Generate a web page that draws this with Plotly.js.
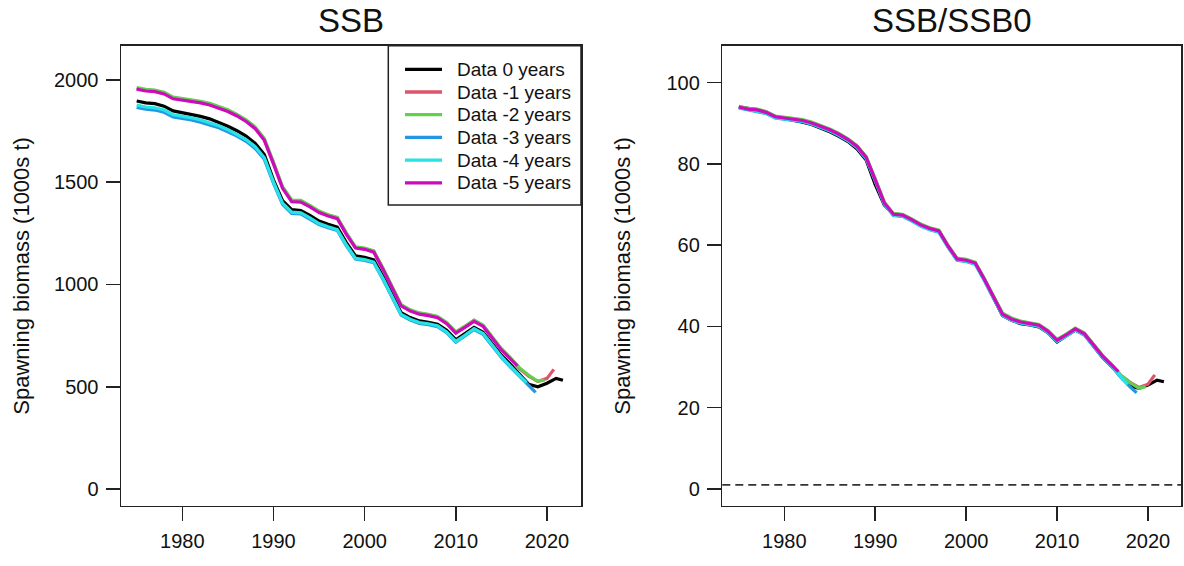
<!DOCTYPE html>
<html>
<head>
<meta charset="utf-8">
<script src="https://cdn.plot.ly/plotly-3.0.1.min.js"></script>
<style>
  html, body { margin: 0; padding: 0; background: #ffffff; }
  #chart { width: 1184px; height: 566px; }
</style>
</head>
<body>
<div id="chart"></div>
<script>
// Annual time steps; each retrospective peel ends with a partial-year point
const years = [1975, 1976, 1977, 1978, 1979, 1980, 1981, 1982, 1983, 1984,
               1985, 1986, 1987, 1988, 1989, 1990, 1991, 1992, 1993, 1994,
               1995, 1996, 1997, 1998, 1999, 2000, 2001, 2002, 2003, 2004,
               2005, 2006, 2007, 2008, 2009, 2010, 2011, 2012, 2013, 2014,
               2015, 2016, 2017, 2018, 2019, 2020, 2021];
const peelEnd = [2021.75, 2020.75, 2019.75, 2018.75, 2017.75, 2016.75];
const peelLabels = ["Data 0 years", "Data -1 years", "Data -2 years",
                    "Data -3 years", "Data -4 years", "Data -5 years"];
const peelColors = ["#000000", "#DF536B", "#61D04F", "#2297E6", "#28E2E5", "#CD0BBC"];

// Spawning biomass (1000s t) by peel
const ssbPeel0 = [1897, 1888, 1884, 1872, 1849, 1841, 1833, 1822, 1810, 1793,
                  1774, 1752, 1726, 1690, 1635, 1512, 1410, 1366, 1362, 1338,
                  1310, 1294, 1281, 1205, 1140, 1133, 1120, 1040, 950, 862,
                  838, 822, 815, 806, 776, 730, 760, 790, 766, 710,
                  654, 610, 562, 512, 500, 517, 541, 532];
const ssbPeel1 = [1959, 1950, 1947, 1936, 1912, 1906, 1901, 1892, 1882, 1868,
                  1850, 1828, 1801, 1766, 1709, 1594, 1474, 1409, 1407, 1384,
                  1356, 1339, 1326, 1249, 1182, 1176, 1162, 1079, 989, 899,
                  874, 859, 852, 842, 812, 766, 794, 824, 799, 742,
                  684, 639, 588, 552, 526, 541, 585];
const ssbPeel2 = [1963, 1954, 1951, 1940, 1916, 1910, 1905, 1896, 1886, 1872,
                  1854, 1832, 1805, 1770, 1713, 1598, 1478, 1413, 1411, 1387,
                  1359, 1341, 1328, 1251, 1184, 1178, 1164, 1081, 991, 901,
                  876, 861, 854, 844, 814, 768, 796, 826, 801, 744,
                  686, 641, 592, 556, 527, 533];
const ssbPeel3 = [1866, 1857, 1853, 1842, 1819, 1812, 1805, 1794, 1782, 1766,
                  1747, 1726, 1700, 1665, 1612, 1495, 1392, 1348, 1345, 1321,
                  1293, 1277, 1264, 1189, 1124, 1118, 1106, 1026, 938, 850,
                  826, 810, 804, 794, 764, 718, 748, 780, 756, 699,
                  643, 596, 552, 505, 472];
const ssbPeel4 = [1877, 1868, 1864, 1853, 1830, 1823, 1815, 1804, 1792, 1776,
                  1757, 1735, 1709, 1674, 1620, 1502, 1398, 1354, 1350, 1326,
                  1298, 1282, 1268, 1193, 1128, 1122, 1110, 1030, 942, 854,
                  830, 814, 808, 798, 768, 722, 752, 784, 760, 703,
                  647, 600, 555, 520];
const ssbPeel5 = [1955, 1946, 1943, 1932, 1908, 1902, 1897, 1888, 1878, 1864,
                  1846, 1824, 1797, 1762, 1705, 1590, 1470, 1405, 1403, 1380,
                  1352, 1335, 1322, 1245, 1178, 1172, 1158, 1075, 985, 895,
                  870, 855, 848, 838, 808, 762, 790, 820, 795, 738,
                  680, 635, 602];

// Spawning biomass relative to unfished level (%) by peel
const relPeel0 = [94.0, 93.6, 93.4, 92.8, 91.6, 91.2, 90.8, 90.3, 89.7, 88.9,
                  87.9, 86.8, 85.5, 83.7, 81.0, 74.9, 69.9, 67.7, 67.5, 66.3,
                  64.9, 64.1, 63.5, 59.7, 56.5, 56.1, 55.5, 51.5, 47.1, 42.7,
                  41.5, 40.7, 40.4, 39.9, 38.5, 36.2, 37.7, 39.1, 38.0, 35.2,
                  32.4, 30.2, 27.8, 25.4, 24.8, 25.6, 26.8, 26.4];
const relPeel1 = [94.1, 93.6, 93.4, 92.8, 91.7, 91.4, 91.2, 90.8, 90.2, 89.4,
                  88.5, 87.4, 86.1, 84.4, 81.7, 76.2, 70.5, 67.7, 67.5, 66.4,
                  65.1, 64.2, 63.6, 59.9, 56.7, 56.4, 55.7, 51.7, 47.4, 43.1,
                  41.9, 41.2, 40.8, 40.4, 38.9, 36.7, 38.0, 39.5, 38.3, 35.6,
                  32.8, 30.6, 28.0, 26.3, 25.0, 25.8, 28.1];
const relPeel2 = [94.2, 93.7, 93.5, 92.9, 91.8, 91.5, 91.3, 90.9, 90.3, 89.5,
                  88.6, 87.5, 86.2, 84.5, 81.8, 76.3, 70.6, 67.8, 67.6, 66.5,
                  65.2, 64.3, 63.7, 60.0, 56.8, 56.5, 55.8, 51.8, 47.5, 43.3,
                  42.1, 41.3, 40.9, 40.5, 39.0, 36.8, 38.1, 39.6, 38.4, 35.7,
                  32.9, 30.7, 28.0, 26.2, 24.8, 25.2];
const relPeel3 = [93.8, 93.3, 93.0, 92.4, 91.3, 91.0, 90.8, 90.4, 89.8, 89.0,
                  88.1, 87.0, 85.7, 84.0, 81.3, 75.8, 70.1, 67.3, 67.1, 66.0,
                  64.7, 63.8, 63.2, 59.5, 56.3, 56.0, 55.3, 51.3, 47.0, 42.7,
                  41.5, 40.8, 40.4, 40.0, 38.5, 36.3, 37.6, 39.1, 37.9, 35.2,
                  32.4, 30.2, 27.5, 25.2, 23.7];
const relPeel4 = [93.9, 93.4, 93.1, 92.5, 91.4, 91.1, 90.9, 90.5, 89.9, 89.1,
                  88.2, 87.1, 85.8, 84.1, 81.4, 75.9, 70.2, 67.4, 67.2, 66.1,
                  64.8, 63.9, 63.3, 59.6, 56.4, 56.1, 55.4, 51.4, 47.1, 42.8,
                  41.6, 40.9, 40.5, 40.1, 38.6, 36.4, 37.7, 39.2, 38.0, 35.3,
                  32.5, 30.3, 27.6, 25.7];
const relPeel5 = [94.0, 93.5, 93.3, 92.7, 91.6, 91.3, 91.1, 90.7, 90.1, 89.3,
                  88.4, 87.3, 86.0, 84.3, 81.6, 76.1, 70.4, 67.6, 67.4, 66.3,
                  65.0, 64.1, 63.5, 59.8, 56.6, 56.3, 55.6, 51.6, 47.3, 43.0,
                  41.8, 41.1, 40.7, 40.3, 38.8, 36.6, 37.9, 39.4, 38.2, 35.5,
                  32.7, 30.5, 28.9];

const ssbTicks = [0, 500, 1000, 1500, 2000];
const relTicks = [0, 20, 40, 60, 80, 100];
const yearTicks = [1980, 1990, 2000, 2010, 2020];
const relReference = 1;
const panelTitles = ["SSB", "SSB/SSB0"];
const yLabel = "Spawning biomass (1000s t)";

const ssbSeries = [ssbPeel0, ssbPeel1, ssbPeel2, ssbPeel3, ssbPeel4, ssbPeel5];
const relSeries = [relPeel0, relPeel1, relPeel2, relPeel3, relPeel4, relPeel5];

// x positions: whole years followed by the peel's final partial-year step
function peelTimes(values, i) {
  return years.slice(0, values.length - 1).concat([peelEnd[i]]);
}

const traces = [];
ssbSeries.forEach((vals, i) => {
  traces.push({
    type: "scatter", mode: "lines",
    x: peelTimes(vals, i), y: vals,
    name: peelLabels[i],
    line: { color: peelColors[i], width: 3.2 },
    xaxis: "x", yaxis: "y"
  });
});
relSeries.forEach((vals, i) => {
  traces.push({
    type: "scatter", mode: "lines",
    x: peelTimes(vals, i), y: vals,
    name: peelLabels[i],
    line: { color: peelColors[i], width: 3.2 },
    xaxis: "x2", yaxis: "y2"
  });
});

const W = 1184, H = 566;
const ink = "#222222";
const textInk = "#111111";
const fontFamily = "Liberation Sans, Arial, Helvetica, sans-serif";

function axisStyle(extra) {
  return Object.assign({
    showline: true, mirror: true, linecolor: ink, linewidth: 1.5,
    ticks: "outside", ticklen: 14, tickwidth: 1.5, tickcolor: ink,
    showgrid: false, zeroline: false, automargin: false,
    tickfont: { size: 20, color: textInk, family: fontFamily },
    ticklabelstandoff: 3,
    tickmode: "array", fixedrange: true
  }, extra);
}

const leftDom = [121 / W, 581 / W];
const rightDom = [722.3 / W, 1181 / W];
const yDom = [(H - 505.7) / H, (H - 45.7) / H];

const px = v => v / W;          // horizontal pixel -> paper
const py = v => (H - v) / H;    // vertical pixel (from top) -> paper

// Boxed key in the top-right corner of the left panel
const keyBox = { x0: 388.3, x1: 581, y0: 45.7, y1: 205 };
const keyRowTop = 69.3, keyRowStep = 22.7;
const keyLineX = [405, 442], keyTextX = 455;

const shapes = [{
  type: "line", xref: "x2 domain", yref: "y2",
  x0: 0, x1: 1, y0: relReference, y1: relReference,
  line: { color: "#333333", width: 1.8, dash: "8px,5px" }
}, {
  type: "rect", xref: "paper", yref: "paper",
  x0: px(keyBox.x0), x1: px(keyBox.x1), y0: py(keyBox.y1), y1: py(keyBox.y0),
  line: { color: ink, width: 1.5 }, fillcolor: "#ffffff", layer: "above"
}];
const annotations = panelTitles.map((t, i) => ({
  text: t, xref: "paper", yref: "paper",
  x: i === 0 ? (leftDom[0] + leftDom[1]) / 2 : (rightDom[0] + rightDom[1]) / 2,
  y: py(20), xanchor: "center", yanchor: "middle",
  showarrow: false,
  font: { size: 33, family: fontFamily, color: textInk }
}));
// Vertical axis labels, one per panel
[22, 623].forEach(xPix => {
  annotations.push({
    text: yLabel, xref: "paper", yref: "paper",
    x: px(xPix), y: (yDom[0] + yDom[1]) / 2,
    xanchor: "center", yanchor: "middle", textangle: -90,
    showarrow: false,
    font: { size: 22, family: fontFamily, color: textInk }
  });
});
peelLabels.forEach((label, i) => {
  const yy = keyRowTop + i * keyRowStep;
  shapes.push({
    type: "line", xref: "paper", yref: "paper",
    x0: px(keyLineX[0]), x1: px(keyLineX[1]), y0: py(yy), y1: py(yy),
    line: { color: peelColors[i], width: 3.3 }, layer: "above"
  });
  annotations.push({
    text: label, xref: "paper", yref: "paper",
    x: px(keyTextX), y: py(yy), xanchor: "left", yanchor: "middle",
    showarrow: false,
    font: { size: 19, family: fontFamily, color: textInk }
  });
});

const layout = {
  width: W, height: H,
  margin: { l: 0, r: 0, t: 0, b: 0 },
  paper_bgcolor: "#ffffff", plot_bgcolor: "#ffffff",
  font: { family: fontFamily, color: textInk },
  showlegend: false,
  xaxis: axisStyle({ domain: leftDom, anchor: "y", range: [1973.28, 2023.73], tickvals: yearTicks }),
  yaxis: axisStyle({ domain: yDom, anchor: "x", range: [-81.6, 2167.6], tickvals: ssbTicks }),
  xaxis2: axisStyle({ domain: rightDom, anchor: "y2", range: [1973.18, 2023.63], tickvals: yearTicks }),
  yaxis2: axisStyle({ domain: yDom, anchor: "x2", range: [-4.11, 109.1], tickvals: relTicks }),
  shapes: shapes,
  annotations: annotations
};

Plotly.newPlot("chart", traces, layout, { staticPlot: true, displayModeBar: false });
</script>
</body>
</html>
